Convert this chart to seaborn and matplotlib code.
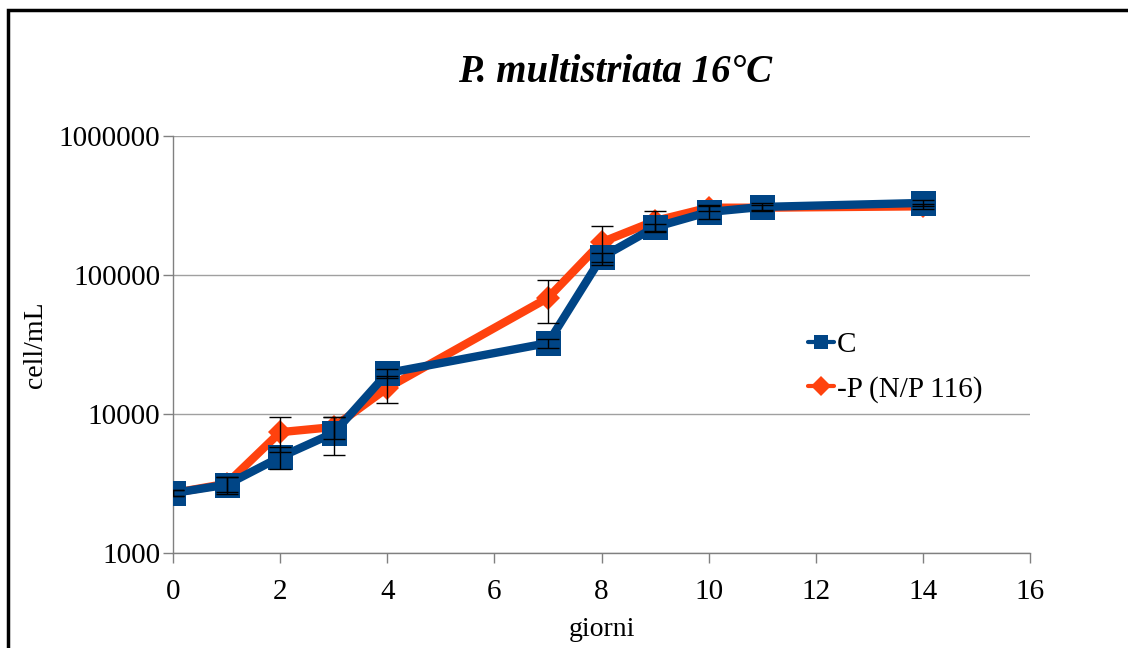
import numpy as np
import pandas as pd
import matplotlib
matplotlib.use("Agg")
import matplotlib.pyplot as plt
import seaborn as sns
from matplotlib.patches import Rectangle

# data
days = [0, 1, 2, 3, 4, 7, 8, 9, 10, 11, 14]
c_vals = [2700, 3100, 4900, 7300, 19700, 32400, 134000, 221000, 284000, 309000, 330000]
c_err = [150, 450, 850, 2230, 1500, 2500, 9000, 12000, 30000, 18000, 18000]
p_vals = [2700, 3150, 7400, 8060, 15400, 68400, 172000, 245000, 305000, 305000, 312000]
p_err = [150, 400, 2100, 1440, 3400, 23000, 53000, 42000, 15000, 12000, 12000]

x_ticks = list(range(0, 17, 2))
y_ticks = [1000, 10000, 100000, 1000000]

blue = "#004586"
orange = "#ff420e"

sns.set_style("white")
plt.rcParams["font.family"] = ["Liberation Serif", "DejaVu Serif"]
plt.rcParams["text.color"] = "black"
plt.rcParams["axes.labelcolor"] = "black"
plt.rcParams["xtick.color"] = "black"
plt.rcParams["ytick.color"] = "black"

df_c = pd.DataFrame({"giorni": days, "cell": c_vals})
df_p = pd.DataFrame({"giorni": days, "cell": p_vals})

fig = plt.figure(figsize=(11.28, 6.48), dpi=100)
ax = fig.add_axes([0.1534, 0.1466, 0.7597, 0.6435])

sns.lineplot(data=df_p, x="giorni", y="cell", ax=ax, color=orange, lw=6,
             marker="D", markersize=12, markeredgewidth=0, label="-P (N/P 116)", zorder=3)
sns.lineplot(data=df_c, x="giorni", y="cell", ax=ax, color=blue, lw=6,
             marker="s", markersize=18, markeredgewidth=0, label="C", zorder=4)

ax.errorbar(days, p_vals, yerr=p_err, fmt="none", ecolor="black", elinewidth=1,
            capsize=8, capthick=1, zorder=5)
ax.errorbar(days, c_vals, yerr=c_err, fmt="none", ecolor="black", elinewidth=1,
            capsize=8, capthick=1, zorder=5)

ax.set_yscale("log")
ax.set_ylim(1000, 1000000)
ax.set_xlim(0, 16)
ax.set_xticks(x_ticks)
ax.set_yticks(y_ticks)
ax.set_yticklabels([str(v) for v in y_ticks])
ax.yaxis.set_minor_locator(matplotlib.ticker.NullLocator())
ax.tick_params(axis="both", labelsize=21, direction="out", length=7, width=1,
               color="#808080", left=True, bottom=True)
ax.tick_params(axis="x", pad=12)
ax.tick_params(axis="y", pad=2)
ax.yaxis.grid(True, color="#a0a0a0", lw=1)
ax.xaxis.grid(False)
for s in ["top", "right"]:
    ax.spines[s].set_visible(False)
for s in ["left", "bottom"]:
    ax.spines[s].set_color("#808080")
    ax.spines[s].set_linewidth(1)

ax.set_xlabel("giorni", fontsize=20, labelpad=8)
ax.set_ylabel("cell/mL", fontsize=20, labelpad=8)
fig.text(615 / 1128, 1 - 72 / 648, "P. multistriata 16°C", fontsize=28,
         fontstyle="italic", fontweight="bold", ha="center", va="center")

handles, labels = ax.get_legend_handles_labels()
leg = ax.legend(handles[::-1], labels[::-1], loc="center left",
                bbox_to_anchor=(0.71, 0.445), frameon=False, fontsize=21,
                handlelength=0.9, handletextpad=0.1, labelspacing=0.6)
for h in leg.legend_handles:
    h.set_linewidth(3)
    h.set_markersize(10)

fig.patches.append(Rectangle((8 / 1128, -0.1), 1.2, 1.1 - 10 / 648,
                             transform=fig.transFigure, fill=False,
                             edgecolor="black", lw=2.5))

fig.savefig("out.png", dpi=100)
